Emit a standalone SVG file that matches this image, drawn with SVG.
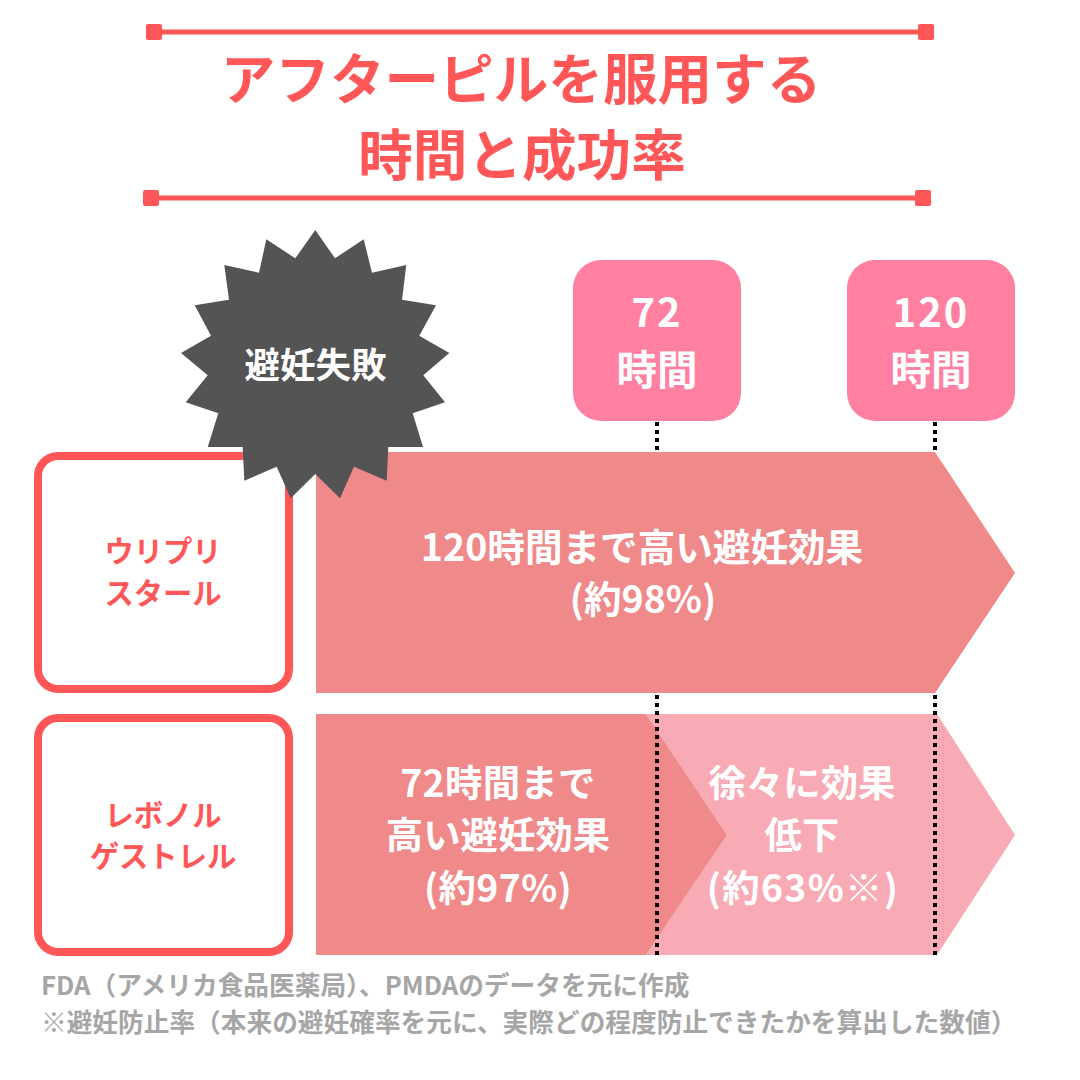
<svg xmlns="http://www.w3.org/2000/svg" width="1080" height="1080" viewBox="0 0 1080 1080">
<style>
text{font-family:"Noto Sans CJK JP","Noto Sans",sans-serif;font-weight:700;text-anchor:middle}
.t{fill:#FF5757;font-size:54.6px}
.w{fill:#fff}
.r{fill:#FF5757;font-size:29.3px}
.n{fill:#a6a6a6;font-size:25.7px;text-anchor:start}
.box{fill:#fff;stroke:#FF5757;stroke-width:8}
.rule{stroke:#FF5757;stroke-width:5;fill:none}
.cap{fill:#FF5757}
.pk{fill:#FF80A0}
.dot{stroke:#000;stroke-width:4;stroke-dasharray:4 4;fill:none}
</style>
<rect width="1080" height="1080" fill="#fff"/>
<g id="title">
<line class="rule" x1="154" y1="32" x2="925" y2="32"/>
<rect class="cap" x="146" y="24" width="16" height="16" rx="2"/>
<rect class="cap" x="918" y="24" width="16" height="16" rx="2"/>
<line class="rule" x1="150" y1="198" x2="922" y2="198"/>
<rect class="cap" x="143" y="190" width="16" height="16" rx="2"/>
<rect class="cap" x="915" y="190" width="16" height="16" rx="2"/>
<text class="t" x="521" y="99">アフターピルを服用する</text>
<text class="t" x="522" y="175">時間と成功率</text>
</g>
<g id="drug1"><rect class="box" x="38" y="456" width="251" height="233" rx="20"/>
<text class="r" x="163" y="562">ウリプリ</text><text class="r" x="163" y="604">スタール</text></g>
<g id="drug2"><rect class="box" x="38" y="718" width="251" height="234" rx="20"/>
<text class="r" x="163" y="826">レボノル</text><text class="r" x="163" y="867">ゲストレル</text></g>
<g id="arrow1"><polygon fill="#F08989" points="316,452 935,452 1015,573 935,693 316,693"/>
<text class="w" x="642" y="561" font-size="37.6">120時間まで高い避妊効果</text>
<text class="w" x="643" y="613" font-size="37.6">(約98%)</text></g>
<g id="arrow3"><polygon fill="#F8ABB4" points="646,714 937,714 1015,835 937,955 646,955 727,835"/>
<text class="w" x="802" y="797" font-size="37.4">徐々に効果</text>
<text class="w" x="802" y="849" font-size="37.4">低下</text>
<text class="w" x="803" y="902" font-size="37.4" letter-spacing="1.3">(約63%※)</text></g>
<g id="arrow2"><polygon fill="#F08989" points="316,714 646,714 727,835 646,955 316,955"/>
<text class="w" x="498" y="797" font-size="37.4" letter-spacing=".3">72時間まで</text>
<text class="w" x="498" y="849" font-size="37.4">高い避妊効果</text>
<text class="w" x="498" y="902" font-size="37.4" letter-spacing=".4">(約97%)</text></g>
<g id="connectors">
<line class="dot" x1="657" y1="422" x2="657" y2="452"/>
<line class="dot" x1="935" y1="422" x2="935" y2="452"/>
<line class="dot" x1="657" y1="695" x2="657" y2="955"/>
<line class="dot" x1="935" y1="695" x2="935" y2="955"/>
</g>
<g id="h72"><rect class="pk" x="573" y="260" width="168" height="161" rx="28"/>
<text class="w" x="657" y="327" font-size="40" letter-spacing="2">72</text><text class="w" x="657" y="385" font-size="40.5">時間</text></g>
<g id="h120"><rect class="pk" x="847" y="260" width="168" height="161" rx="28"/>
<text class="w" x="931" y="327" font-size="40" letter-spacing="2">120</text><text class="w" x="931" y="385" font-size="40.5">時間</text></g>
<g id="burst"><polygon fill="#545454" points="315.3,230 335,258.3 363.7,239.3 372,272.7 406.3,265 402,299.7 436,305.3 419.3,335.7 449.3,353 423.3,375.3 445,402.3 412.7,413.3 423,447 388.3,447 386.7,480.7 354,466.7 340,498.3 315.3,474 290.7,498.3 276.7,466.7 244.3,480.7 242.7,447 207.7,447 218.3,413.3 185.7,402.3 207.7,375.3 181,353 211,335.7 194.7,305.3 229,299.7 224.3,265 259,272.7 266.3,239.3 295.3,258.3"/>
<text class="w" x="315.500" y="378" font-size="35.5">避妊失敗</text></g>
<g id="notes"><text class="n" x="41" y="995">FDA（アメリカ食品医薬局）、PMDAのデータを元に作成</text>
<text class="n" x="41" y="1032">※避妊防止率（本来の避妊確率を元に、実際どの程度防止できたかを算出した数値）</text></g>
</svg>
